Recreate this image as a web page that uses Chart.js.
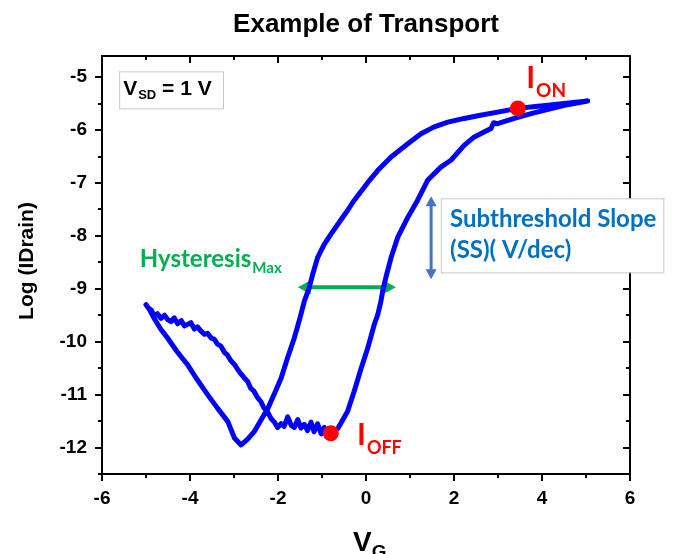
<!DOCTYPE html>
<html><head><meta charset="utf-8">
<script src="https://cdn.jsdelivr.net/npm/chart.js@4.4.0/dist/chart.umd.min.js"></script>
<style>html,body{margin:0;padding:0;background:#fff}#wrap{width:677px;height:554px}</style>
</head><body><div id="wrap"><canvas id="c" width="677" height="554"></canvas></div>
<script>
// ---- data ----
const forwardV = [-5.00,-4.93,-4.80,-4.65,-4.51,-4.30,-4.06,-3.85,-3.60,-3.38,-3.14,-2.99,-2.84,-2.70,-2.54,-2.40,-2.23,-2.08,-1.93,-1.78,-1.63,-1.50,-1.40,-1.29,-1.21,-1.10,-0.95,-0.80,-0.64,-0.42,-0.27,-0.04,0.08,0.27,0.57,0.95,1.25,1.55,1.86,2.23,2.60,2.99,3.45,3.80,4.13,4.60,5.04];
const forwardLogI = [-9.30,-9.38,-9.58,-9.78,-9.93,-10.18,-10.43,-10.70,-11.00,-11.25,-11.51,-11.82,-11.95,-11.85,-11.70,-11.50,-11.26,-10.98,-10.69,-10.30,-9.93,-9.55,-9.23,-8.98,-8.72,-8.41,-8.16,-7.97,-7.78,-7.52,-7.33,-7.08,-6.95,-6.76,-6.51,-6.26,-6.07,-5.94,-5.85,-5.78,-5.72,-5.66,-5.59,-5.56,-5.53,-5.49,-5.45];
const reverseV = [5.04,4.51,3.75,3.37,2.99,2.90,2.84,2.46,2.23,1.93,1.70,1.40,1.17,0.95,0.72,0.57,0.45,0.38,0.34,0.27,0.19,0.04,-0.11,-0.27,-0.42,-0.64,-0.80,
  -0.87,-0.95,-1.02,-1.10,-1.18,-1.25,-1.33,-1.40,-1.48,-1.55,-1.63,-1.70,-1.78,-1.86,-1.93,-2.01,-2.08,-2.16,-2.24,-2.32,-2.39,-2.47,-2.55,-2.62,-2.69,-2.77,-2.85,-2.92,-2.99,-3.07,-3.15,-3.22,-3.30,-3.37,-3.45,-3.52,-3.60,-3.67,-3.75,-3.83,-3.90,-3.98,-4.05,-4.13,-4.20,-4.28,-4.36,-4.43,-4.51,-4.58,-4.66,-4.74,-4.81,-4.88,-4.95,-5.00];
const reverseLogI = [-5.45,-5.53,-5.69,-5.78,-5.88,-5.86,-5.97,-6.13,-6.29,-6.57,-6.70,-6.95,-7.33,-7.65,-8.03,-8.41,-8.79,-9.04,-9.23,-9.48,-9.67,-10.12,-10.50,-10.94,-11.32,-11.64,-11.73,
  -11.73,-11.62,-11.74,-11.55,-11.70,-11.52,-11.68,-11.56,-11.63,-11.47,-11.62,-11.58,-11.42,-11.60,-11.55,-11.62,-11.52,-11.45,-11.32,-11.25,-11.13,-11.05,-10.93,-10.88,-10.75,-10.68,-10.60,-10.52,-10.43,-10.36,-10.25,-10.20,-10.08,-10.05,-9.95,-9.93,-9.84,-9.86,-9.80,-9.72,-9.76,-9.64,-9.67,-9.70,-9.60,-9.66,-9.55,-9.62,-9.58,-9.50,-9.56,-9.47,-9.52,-9.40,-9.36,-9.30];
const markerV = [3.45, -0.80];
const markerLogI = [-5.59, -11.73];
const xTickValues = [-6,-4,-2,0,2,4,6];
const yTickValues = [-12,-11,-10,-9,-8,-7,-6,-5];
const xMinorValues = [-5,-3,-1,1,3,5];
const yMinorValues = [-12.5,-11.5,-10.5,-9.5,-8.5,-7.5,-6.5,-5.5];

const loopPoints = forwardV.map((v,i)=>({x:v,y:forwardLogI[i]}))
  .concat(reverseV.map((v,i)=>({x:v,y:reverseLogI[i]})));
const markerPoints = markerV.map((v,i)=>({x:v,y:markerLogI[i]}));

const ARIAL = '"Liberation Sans", Arial, sans-serif';
const CAL = '"Lato", "Open Sans", sans-serif';

function subText(ctx, x, y, main, sub, mf, sf, dy, gap){
  ctx.font = mf; ctx.fillText(main, x, y);
  const w = ctx.measureText(main).width;
  ctx.font = sf; ctx.fillText(sub, x + w + (gap||0), y + dy);
  return x + w + (gap||0) + ctx.measureText(sub).width;
}
function arrowHead(ctx, x, y, ang, len, wid){
  ctx.beginPath();
  ctx.moveTo(x, y);
  ctx.lineTo(x - len*Math.cos(ang) + wid/2*Math.sin(ang), y - len*Math.sin(ang) - wid/2*Math.cos(ang));
  ctx.lineTo(x - len*Math.cos(ang) - wid/2*Math.sin(ang), y - len*Math.sin(ang) + wid/2*Math.cos(ang));
  ctx.closePath(); ctx.fill();
}
function doubleArrow(ctx, x1,y1,x2,y2,color,lw,len,wid){
  const ang = Math.atan2(y2-y1, x2-x1);
  ctx.strokeStyle = color; ctx.fillStyle = color; ctx.lineWidth = lw;
  ctx.beginPath();
  ctx.moveTo(x1 + len*0.8*Math.cos(ang), y1 + len*0.8*Math.sin(ang));
  ctx.lineTo(x2 - len*0.8*Math.cos(ang), y2 - len*0.8*Math.sin(ang));
  ctx.stroke();
  arrowHead(ctx, x2, y2, ang, len, wid);
  arrowHead(ctx, x1, y1, ang+Math.PI, len, wid);
}

const framePlugin = {
  id: 'frame',
  beforeDatasetsDraw(chart){
    const {ctx, scales:{x, y}} = chart;
    ctx.save();
    doubleArrow(ctx, x.getPixelForValue(-1.55), y.getPixelForValue(-8.97), x.getPixelForValue(0.68), y.getPixelForValue(-8.97), '#00B050', 4, 13, 14);
    ctx.restore();
  },
  afterDraw(chart){
    const {ctx, chartArea:a, scales:{x, y}} = chart;
    ctx.save();
    ctx.strokeStyle = '#000'; ctx.lineWidth = 2;
    ctx.strokeRect(a.left, a.top, a.right-a.left, a.bottom-a.top);
    const tick = (x1,y1,x2,y2)=>{ctx.beginPath();ctx.moveTo(x1,y1);ctx.lineTo(x2,y2);ctx.stroke();};
    xTickValues.forEach(v=>{const p=Math.round(x.getPixelForValue(v));tick(p,a.bottom,p,a.bottom+7);tick(p,a.top,p,a.top+7);});
    xMinorValues.forEach(v=>{const p=Math.round(x.getPixelForValue(v));tick(p,a.bottom,p,a.bottom+4);tick(p,a.top,p,a.top+4);});
    yTickValues.forEach(v=>{const p=Math.round(y.getPixelForValue(v));tick(a.left-7,p,a.left,p);tick(a.right-7,p,a.right,p);});
    yMinorValues.forEach(v=>{const p=Math.round(y.getPixelForValue(v));tick(a.left-4,p,a.left,p);tick(a.right-4,p,a.right,p);});

    // title
    ctx.fillStyle = '#000'; ctx.textAlign = 'center'; ctx.textBaseline = 'alphabetic';
    ctx.font = 'bold 26px ' + ARIAL;
    ctx.fillText('Example of Transport', (a.left+a.right)/2, 32);
    // y title
    ctx.save();
    ctx.translate(33, (a.top+a.bottom)/2 - 4);
    ctx.rotate(-Math.PI/2);
    ctx.font = 'bold 21px ' + ARIAL;
    ctx.fillText('Log (IDrain)', 0, 0);
    ctx.restore();
    // x title V_G
    ctx.textAlign = 'left';
    subText(ctx, 353, 551, 'V', 'G', 'bold 28px ' + ARIAL, 'bold 19px ' + ARIAL, 7, 0);

    // V_SD box
    const bx1 = x.getPixelForValue(-5.61), bx2 = x.getPixelForValue(-3.25);
    const by1 = y.getPixelForValue(-4.89), by2 = y.getPixelForValue(-5.59);
    ctx.strokeStyle = '#c8c8c8'; ctx.lineWidth = 1;
    ctx.strokeRect(bx1+0.5, by1+0.5, bx2-bx1, by2-by1);
    ctx.fillStyle = '#000';
    const ex = subText(ctx, bx1+4, y.getPixelForValue(-5.34), 'V', 'SD', 'bold 21px ' + ARIAL, 'bold 13px ' + ARIAL, 4, 1);
    ctx.font = 'bold 21px ' + ARIAL;
    ctx.fillText(' = 1 V', ex, y.getPixelForValue(-5.34));

    // I_ON, I_OFF
    ctx.fillStyle = '#FF0000';
    subText(ctx, x.getPixelForValue(3.64), y.getPixelForValue(-5.21), 'I', 'ON', 'bold 30px '+CAL, 'bold 19px '+CAL, 9, 1);
    subText(ctx, x.getPixelForValue(-0.205), y.getPixelForValue(-11.96), 'I', 'OFF', 'bold 30px '+CAL, 'bold 18px '+CAL, 9, 1);

    // Hysteresis
    ctx.fillStyle = '#00B050';
    subText(ctx, x.getPixelForValue(-5.14), y.getPixelForValue(-8.59), 'Hysteresis', 'Max', 'bold 24px '+CAL, 'bold 15px '+CAL, 6, 1);

    // SS box + arrow (box is white-filled and overlaps the right frame)
    ctx.font = 'bold 24px '+CAL;
    const l1 = 'Subthreshold Slope', l2 = '(SS)( V/dec)';
    const tx = x.getPixelForValue(1.91);
    const tw = Math.max(ctx.measureText(l1).width, ctx.measureText(l2).width);
    const sx1 = x.getPixelForValue(1.70);
    const sy1 = y.getPixelForValue(-7.29), sy2 = y.getPixelForValue(-8.69);
    ctx.fillStyle = '#ffffff';
    ctx.fillRect(sx1, sy1, tx + tw + 7 - sx1, sy2 - sy1);
    ctx.strokeStyle = '#c8c8c8'; ctx.lineWidth = 1;
    ctx.strokeRect(sx1+0.5, sy1+0.5, tx + tw + 7 - sx1, sy2 - sy1);
    ctx.fillStyle = '#0070C0';
    ctx.fillText(l1, tx, y.getPixelForValue(-7.84));
    ctx.fillText(l2, tx, y.getPixelForValue(-8.41));
    doubleArrow(ctx, x.getPixelForValue(1.48), y.getPixelForValue(-7.25), x.getPixelForValue(1.48), y.getPixelForValue(-8.82), '#4472C4', 3, 10, 11);
    ctx.restore();
  }
};

new Chart(document.getElementById('c'), {
  type: 'scatter',
  data: { datasets: [
    { data: markerPoints, pointRadius: 8, pointHoverRadius: 8, backgroundColor: '#FF0000', borderColor: '#FF0000', borderWidth: 0, order: 0 },
    { data: loopPoints, showLine: true, pointRadius: 0, borderColor: '#0000FF', borderWidth: 5, tension: 0, order: 1, borderJoinStyle: 'round', borderCapStyle: 'round' }
  ]},
  options: {
    responsive: false, animation: false, devicePixelRatio: 1,
    layout: { padding: { left: 0, right: 47, top: 56, bottom: 0 } },
    plugins: { legend: { display: false }, tooltip: { enabled: false }, title: { display: false } },
    scales: {
      x: { type: 'linear', min: -6, max: 6,
        afterBuildTicks: s => { s.ticks = xTickValues.map(v=>({value:v})); },
        afterFit: s => { s.height = 80; },
        grid: { display: false }, border: { display: false },
        ticks: { font: { family: ARIAL, size: 19, weight: 'bold' }, color: '#000', padding: 5, maxRotation: 0 } },
      y: { type: 'linear', min: -12.5, max: -4.6,
        afterBuildTicks: s => { s.ticks = yTickValues.map(v=>({value:v})); },
        afterFit: s => { s.width = 102; },
        grid: { display: false }, border: { display: false },
        ticks: { font: { family: ARIAL, size: 19, weight: 'bold' }, color: '#000', padding: 7 } }
    }
  },
  plugins: [framePlugin]
});
</script></body></html>
